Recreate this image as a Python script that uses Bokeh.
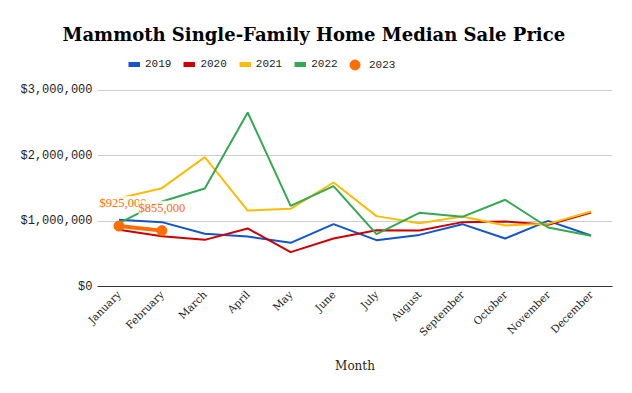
from bokeh.plotting import figure
from bokeh.models import (FactorRange, Range1d, NumeralTickFormatter, Legend, LegendItem,
                          ColumnDataSource, LabelSet, FixedTicker)
from bokeh.embed import file_html
from bokeh.resources import INLINE
import math

months = ["January", "February", "March", "April", "May", "June", "July",
          "August", "September", "October", "November", "December"]
y2019 = [1020000, 985000, 806000, 765000, 668000, 954000, 709000, 790000, 954000, 735000, 1005000, 780000]
y2020 = [867000, 770000, 714000, 888000, 526000, 735000, 862000, 857000, 985000, 995000, 944000, 1133000]
y2021 = [1352000, 1505000, 1980000, 1163000, 1189000, 1592000, 1077000, 969000, 1071000, 934000, 959000, 1148000]
y2022 = [969000, 1300000, 1500000, 2663000, 1235000, 1536000, 801000, 1128000, 1066000, 1327000, 903000, 776000]
months2023 = ["January", "February"]
y2023 = [925000, 855000]
labels2023 = ["$925,000", "$855,000"]
y_ticks = [0, 1000000, 2000000, 3000000]
series_names = ["2019", "2020", "2021", "2022"]

colors = {"2019": "#1155cc", "2020": "#cc0000", "2021": "#fbbc04", "2022": "#34a853", "2023": "#ff6d01"}
label_nudge = [4, 0]  # keep the first data label inside the plot frame

# frame extends above the 3M gridline so the legend can sit inside it
p = figure(width=632, height=393, x_range=FactorRange(*months), y_range=Range1d(0, 3612000),
           output_backend="svg", toolbar_location=None,
           min_border_left=97, min_border_right=20, min_border_bottom=107, min_border_top=50)
p.outline_line_color = None

p.title.text = "Mammoth Single-Family Home Median Sale Price"
p.title.align = "left"
p.title.offset = -35
p.title.text_font = "DejaVu Serif"
p.title.text_font_size = "18px"
p.title.text_font_style = "bold"
p.title.text_color = "#000000"
p.title.standoff = 11

items = []
for name, ys in zip(series_names, [y2019, y2020, y2021, y2022]):
    p.line(months, ys, line_color=colors[name], line_width=2)
    # off-screen proxy so the legend swatch is drawn thicker
    proxy = p.line(x=["January", "February"], y=[-1e7, -1e7], line_color=colors[name], line_width=5)
    items.append(LegendItem(label=name, renderers=[proxy]))

src23 = ColumnDataSource(dict(x=months2023, y=y2023, lab=labels2023, dx=label_nudge))
p.line("x", "y", source=src23, line_color=colors["2023"], line_width=4)
p.scatter("x", "y", source=src23, size=10, fill_color=colors["2023"], line_color=colors["2023"])
proxy23 = p.scatter(x=["January"], y=[-1e7], size=11, fill_color=colors["2023"], line_color=colors["2023"])

lbls = LabelSet(x="x", y="y", text="lab", source=src23, x_offset="dx", y_offset=23,
                text_align="center", text_baseline="middle", text_font="Liberation Sans",
                text_font_size="12.5px", text_color=colors["2023"],
                background_fill_color="white", background_fill_alpha=0.8)
p.add_layout(lbls)

common = dict(orientation="horizontal", label_text_font="Liberation Mono",
              label_text_font_size="11px", label_text_color="#222222",
              padding=0, margin=0, border_line_color=None, background_fill_alpha=0)

legend = Legend(items=items, location=(31, 216), glyph_width=12, glyph_height=12,
                spacing=12, label_standoff=5, label_height=12, **common)
p.add_layout(legend)

legend23 = Legend(items=[LegendItem(label="2023", renderers=[proxy23])], location=(245, 209),
                  glyph_width=25, glyph_height=25, label_standoff=2, label_height=25, **common)
p.add_layout(legend23)

p.yaxis.ticker = FixedTicker(ticks=y_ticks)
p.yaxis.formatter = NumeralTickFormatter(format="$0,0")
p.yaxis.axis_line_color = None
p.yaxis.major_tick_line_color = None
p.yaxis.major_tick_out = 0
p.yaxis.minor_tick_line_color = None
p.yaxis.major_label_text_font = "Liberation Mono"
p.yaxis.major_label_text_font_size = "12px"
p.yaxis.major_label_text_color = "#222222"
p.yaxis.major_label_standoff = 5

p.xaxis.axis_line_color = "#333333"
p.xaxis.axis_line_width = 1
p.xaxis.major_tick_line_color = None
p.xaxis.major_tick_out = 0
p.xaxis.major_label_orientation = math.pi / 4
p.xaxis.major_label_text_font = "DejaVu Serif"
p.xaxis.major_label_text_font_size = "10.5px"
p.xaxis.major_label_text_color = "#222222"
p.xaxis.major_label_standoff = 6
p.xaxis.axis_label = "Month"
p.xaxis.axis_label_text_font = "DejaVu Serif"
p.xaxis.axis_label_text_font_style = "normal"
p.xaxis.axis_label_text_font_size = "12px"
p.xaxis.axis_label_text_color = "#222222"
p.xaxis.axis_label_standoff = 14

p.xgrid.grid_line_color = None
p.ygrid.grid_line_color = "#cccccc"
p.ygrid.ticker = FixedTicker(ticks=y_ticks)

open("out.html", "w").write(file_html(p, INLINE))
